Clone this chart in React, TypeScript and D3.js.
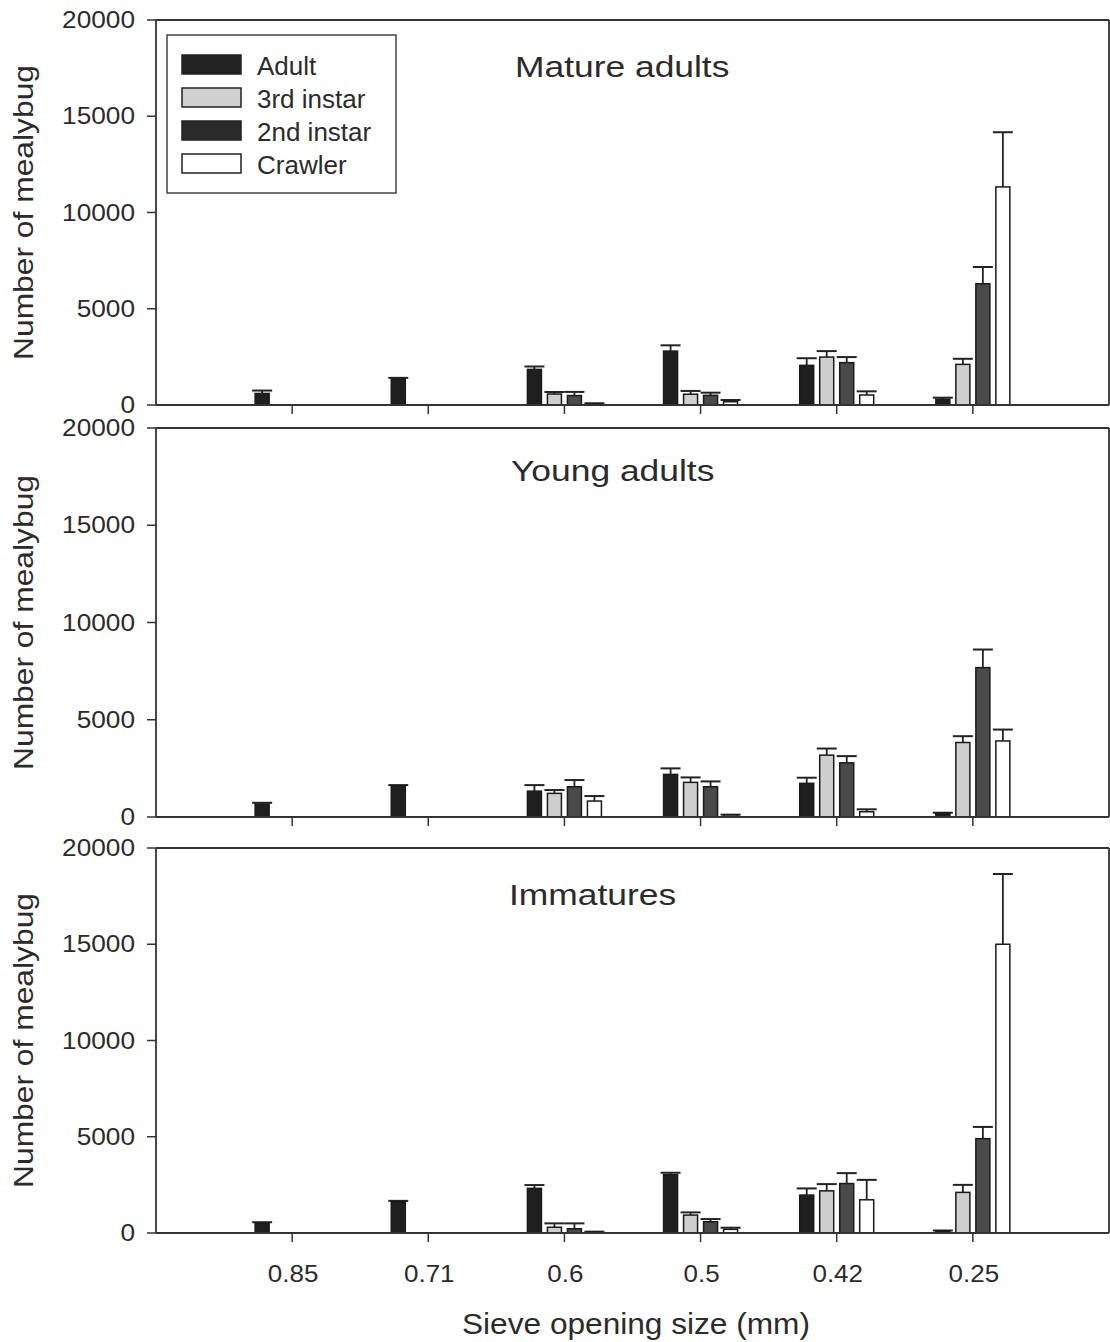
import React from 'react';
import * as d3 from 'd3';

const categories = ['0.85', '0.71', '0.6', '0.5', '0.42', '0.25'];
const seriesNames = ['Adult', '3rd instar', '2nd instar', 'Crawler'];
const yTicks = [0, 5000, 10000, 15000, 20000];

// Mature adults
const matureAdult = [600, 1350, 1850, 2800, 2060, 300];
const matureAdultErr = [150, 60, 150, 300, 370, 80];
const mature3rd = [0, 0, 570, 560, 2490, 2110];
const mature3rdErr = [0, 0, 105, 170, 310, 290];
const mature2nd = [0, 0, 490, 500, 2200, 6300];
const mature2ndErr = [0, 0, 190, 140, 290, 870];
const matureCrawler = [0, 0, 60, 170, 520, 11330];
const matureCrawlerErr = [0, 0, 30, 90, 190, 2840];

// Young adults
const youngAdult = [660, 1590, 1330, 2190, 1730, 180];
const youngAdultErr = [70, 50, 310, 310, 290, 40];
const young3rd = [0, 0, 1215, 1780, 3180, 3830];
const young3rdErr = [0, 0, 170, 255, 340, 325];
const young2nd = [0, 0, 1555, 1555, 2785, 7680];
const young2ndErr = [0, 0, 345, 275, 345, 930];
const youngCrawler = [0, 0, 820, 100, 270, 3910];
const youngCrawlerErr = [0, 0, 257, 20, 125, 585];

// Immatures
const immAdult = [500, 1620, 2320, 3030, 1970, 100];
const immAdultErr = [60, 50, 170, 100, 345, 30];
const imm3rd = [0, 0, 300, 930, 2190, 2110];
const imm3rdErr = [0, 0, 200, 140, 350, 390];
const imm2nd = [0, 0, 220, 585, 2570, 4900];
const imm2ndErr = [0, 0, 280, 140, 540, 610];
const immCrawler = [0, 0, 60, 190, 1725, 15000];
const immCrawlerErr = [0, 0, 10, 85, 1035, 3650];

const FONT = '"Liberation Sans", Arial, Helvetica, sans-serif';
const TXT = '#2b2b2b';
const AX = '#333333';
const barFills = ['#1f1f1f', '#cfcfcf', '#4a4a4a', '#ffffff'];
const legendFills = ['#222222', '#d0d0d0', '#2a2a2a', '#ffffff'];

const panels = [
  { title: 'Mature adults', top: 20, base: 405, titleX: 515, titleY: 77,
    values: [matureAdult, mature3rd, mature2nd, matureCrawler],
    errors: [matureAdultErr, mature3rdErr, mature2ndErr, matureCrawlerErr] },
  { title: 'Young adults', top: 428, base: 817, titleX: 511, titleY: 481,
    values: [youngAdult, young3rd, young2nd, youngCrawler],
    errors: [youngAdultErr, young3rdErr, young2ndErr, youngCrawlerErr] },
  { title: 'Immatures', top: 848, base: 1233, titleX: 509, titleY: 905,
    values: [immAdult, imm3rd, imm2nd, immCrawler],
    errors: [immAdultErr, imm3rdErr, imm2ndErr, immCrawlerErr] },
];

const LEFT = 156;
const RIGHT = 1109;

function SText({ x, y, size, sx = 1, anchor = 'start', children }: any) {
  return (
    <text
      transform={`translate(${x},${y}) scale(${sx},1)`}
      fontFamily={FONT}
      fontSize={size}
      fill={TXT}
      textAnchor={anchor}
    >
      {children}
    </text>
  );
}

export default function App() {
  const x = d3.scaleLinear().domain([0, categories.length + 1]).range([LEFT, RIGHT]);
  const pitch = 20;
  const bw = 14;
  const capHalf = 10;

  return (
    <svg
      width={1110}
      height={1342}
      style={{ position: 'absolute', left: 0, top: 0, background: '#fff' }}
    >
      <rect x={0} y={0} width={1110} height={1342} fill="#fff" />
      {panels.map((p, pi) => {
        const y = d3.scaleLinear().domain([0, 20000]).range([p.base, p.top]);
        return (
          <g key={pi}>
            {p.values.map((vals, si) =>
              vals.map((v, ci) => {
                if (v <= 0) return null;
                const cx = x(ci + 1) + (si - 1.5) * pitch;
                const e = p.errors[si][ci];
                return (
                  <g key={`${si}-${ci}`}>
                    <line x1={cx} x2={cx} y1={y(v)} y2={y(v + e)} stroke="#222" strokeWidth={1.8} />
                    <line x1={cx - capHalf} x2={cx + capHalf} y1={y(v + e)} y2={y(v + e)} stroke="#222" strokeWidth={2} />
                    <rect
                      x={cx - bw / 2}
                      y={y(v)}
                      width={bw}
                      height={y(0) - y(v)}
                      fill={barFills[si]}
                      stroke="#1a1a1a"
                      strokeWidth={1.5}
                    />
                  </g>
                );
              })
            )}
            <line x1={LEFT} x2={LEFT} y1={p.top} y2={p.base} stroke={AX} strokeWidth={1.8} />
            <line x1={RIGHT} x2={RIGHT} y1={p.top} y2={p.base} stroke={AX} strokeWidth={1.8} />
            <line x1={LEFT} x2={RIGHT} y1={p.top} y2={p.top} stroke={AX} strokeWidth={1.8} />
            <line x1={LEFT} x2={RIGHT} y1={p.base} y2={p.base} stroke={AX} strokeWidth={1.8} />
            {yTicks.map((t) => (
              <g key={t}>
                <line x1={LEFT - 9} x2={LEFT} y1={y(t)} y2={y(t)} stroke={AX} strokeWidth={1.5} />
                <SText x={135} y={y(t) + 8} size={23} sx={1.14} anchor="end">
                  {String(t)}
                </SText>
              </g>
            ))}
            {categories.map((c, ci) => (
              <line key={c} x1={x(ci + 1)} x2={x(ci + 1)} y1={p.base} y2={p.base + 9} stroke={AX} strokeWidth={1.5} />
            ))}
            <SText x={p.titleX} y={p.titleY} size={30} sx={1.18}>
              {p.title}
            </SText>
            <text
              transform={`translate(33,${(p.top + p.base) / 2}) rotate(-90)`}
              fontFamily={FONT}
              fontSize={28}
              fill={TXT}
              textAnchor="middle"
              textLength={295}
              lengthAdjust="spacingAndGlyphs"
            >
              Number of mealybug
            </text>
          </g>
        );
      })}
      {categories.map((c, ci) => (
        <SText key={c} x={x(ci + 1) + 1} y={1282} size={23} sx={1.13} anchor="middle">
          {c}
        </SText>
      ))}
      <text
        x={636}
        y={1334}
        fontFamily={FONT}
        fontSize={29}
        fill={TXT}
        textAnchor="middle"
        textLength={348}
        lengthAdjust="spacingAndGlyphs"
      >
        Sieve opening size (mm)
      </text>
      <rect x={167} y={35} width={229} height={158} fill="#fff" stroke="#444" strokeWidth={1.5} />
      {seriesNames.map((s, i) => (
        <g key={s}>
          <rect x={182} y={55 + i * 33} width={59} height={19} fill={legendFills[i]} stroke="#222" strokeWidth={1.5} />
          <SText x={257} y={75 + i * 33} size={26}>
            {s}
          </SText>
        </g>
      ))}
    </svg>
  );
}
